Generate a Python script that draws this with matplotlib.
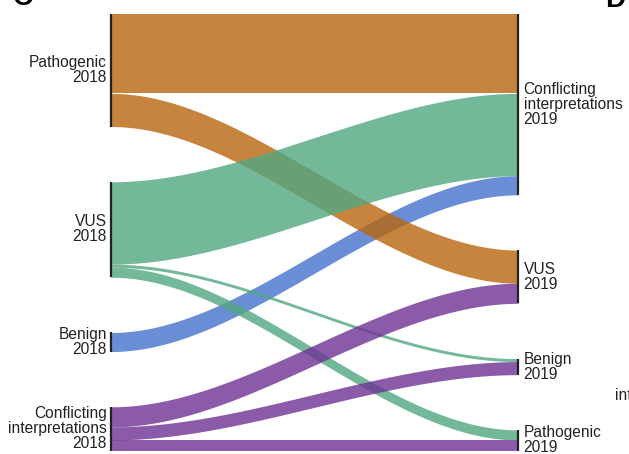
import matplotlib.pyplot as plt
import numpy as np

plt.rcParams['font.family'] = ['Liberation Sans', 'DejaVu Sans']

# nodes, top to bottom
left_nodes = ['Pathogenic', 'VUS', 'Benign', 'Conflicting\ninterpretations']
right_nodes = ['Conflicting\ninterpretations', 'VUS', 'Benign', 'Pathogenic']
left_year = '2018'
right_year = '2019'

# flows: source index (2018), target index (2019), size
flow_src = [0, 0, 1, 1, 1, 2, 3, 3, 3]
flow_dst = [0, 1, 0, 2, 3, 0, 1, 2, 3]
flow_val = [79, 33, 82, 3, 10, 19, 20, 13, 11]

colors = ['#BA660E', '#51A681', '#4572CC', '#6E3294']
draw_order = [2, 0, 1, 3]
gap = 55


def stack(sizes):
    tops = []
    y = 0
    for s in sizes:
        tops.append(y)
        y += s + gap
    return tops


left_size = [sum(v for s, v in zip(flow_src, flow_val) if s == i) for i in range(4)]
right_size = [sum(v for d, v in zip(flow_dst, flow_val) if d == i) for i in range(4)]
left_top = stack(left_size)
right_top = stack(right_size)
total = max(sum(left_size), sum(right_size)) + 3 * gap

# position of each flow inside its nodes
left_pos = {}
cur = list(left_top)
for i in sorted(range(len(flow_val)), key=lambda k: (flow_src[k], flow_dst[k])):
    left_pos[i] = cur[flow_src[i]]
    cur[flow_src[i]] += flow_val[i]
right_pos = {}
cur = list(right_top)
for i in sorted(range(len(flow_val)), key=lambda k: (flow_dst[k], flow_src[k])):
    right_pos[i] = cur[flow_dst[i]]
    cur[flow_dst[i]] += flow_val[i]

fig = plt.figure(figsize=(6.29, 4.54), dpi=100)
ax = fig.add_axes([111 / 629, 3 / 454, 407 / 629, 437 / 454])

x = np.linspace(0, 1, 200)
ease = 3 * x ** 2 - 2 * x ** 3
for src in draw_order:
    for i in range(len(flow_val)):
        if flow_src[i] != src:
            continue
        a0 = left_pos[i]
        b0 = right_pos[i]
        top = a0 + (b0 - a0) * ease
        ax.fill_between(x, top, top + flow_val[i], color=colors[src],
                        alpha=0.8, lw=0)

for i in range(4):
    ax.plot([0, 0], [left_top[i], left_top[i] + left_size[i]], color='#222222',
            lw=1.6, solid_capstyle='butt', clip_on=False)
    ax.plot([1, 1], [right_top[i], right_top[i] + right_size[i]], color='#222222',
            lw=1.6, solid_capstyle='butt', clip_on=False)
    ax.annotate(left_nodes[i] + '\n' + left_year,
                (0, left_top[i] + left_size[i] / 2), xytext=(-3, 0),
                textcoords='offset points', ha='right', va='center',
                multialignment='right', fontsize=11.2, color='#222222',
                linespacing=1.0)
    ax.annotate(right_nodes[i] + '\n' + right_year,
                (1, right_top[i] + right_size[i] / 2), xytext=(4, 0),
                textcoords='offset points', ha='left', va='center',
                multialignment='left', fontsize=11.2, color='#222222',
                linespacing=1.0)

ax.set_xlim(0, 1)
ax.set_ylim(total, 0)
ax.axis('off')

# cropped pieces of neighbouring panels
fig.text(0.02, 0.99, 'C', fontsize=20, fontweight='bold', va='baseline')
fig.text(605 / 629, 0.985, 'D', fontsize=20, fontweight='bold', va='baseline')
fig.text(615 / 629, 1 - 395 / 454, 'int', fontsize=11.2, va='center', color='#222222')

fig.savefig('out.png', dpi=100)
